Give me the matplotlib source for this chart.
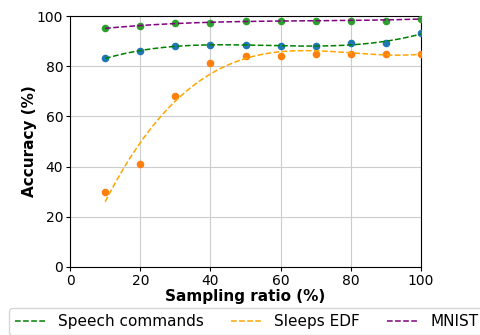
import matplotlib
matplotlib.use("Agg")
import matplotlib.pyplot as plt
import numpy as np

# sampling ratios (%)
ratios = [10, 20, 30, 40, 50, 60, 70, 80, 90, 100]

# measured accuracies (%)
speech_acc = [83.1, 86.2, 88.2, 88.3, 88.3, 88.2, 88.2, 89.1, 89.1, 93.2]
sleep_acc = [29.9, 40.9, 68.0, 81.3, 84.1, 84.1, 85.0, 85.0, 85.0, 85.0]
mnist_acc = [95.2, 96.1, 97.1, 97.2, 98.1, 98.2, 98.2, 98.2, 98.2, 99.0]

labels = ["Speech commands", "Sleeps EDF", "MNIST"]

fig = plt.figure(figsize=(4.8, 3.35), dpi=100)
ax = fig.add_axes([0.146, 0.203, 0.731, 0.749])

x = np.array(ratios)
xs = np.linspace(x.min(), x.max(), 200)

ax.scatter(x, speech_acc, s=20, color="tab:blue", zorder=3)
ax.scatter(x, sleep_acc, s=20, color="tab:orange", zorder=3)
ax.scatter(x, mnist_acc, s=20, color="tab:green", zorder=3)

# polynomial trend lines
for y, c, lab in zip([speech_acc, sleep_acc, mnist_acc],
                     ["green", "orange", "purple"], labels):
    p = np.polyfit(x, y, 3)
    ax.plot(xs, np.polyval(p, xs), "--", color=c, lw=1.1, label=lab, zorder=4)

ax.set_xlim(0, 100)
ax.set_ylim(0, 100)
ax.set_xlabel("Sampling ratio (%)", fontsize=11, fontweight="bold", labelpad=0.5)
ax.set_ylabel("Accuracy (%)", fontsize=11, fontweight="bold", labelpad=0)
ax.tick_params(labelsize=10, length=3, pad=2)
ax.grid(True, color="#cccccc", lw=0.8)
ax.set_axisbelow(True)

ax.legend(loc="upper left", bbox_to_anchor=(-0.174, -0.163), ncol=3,
          fontsize=11, borderaxespad=0, columnspacing=1.8)

fig.savefig("out.png", dpi=100)
